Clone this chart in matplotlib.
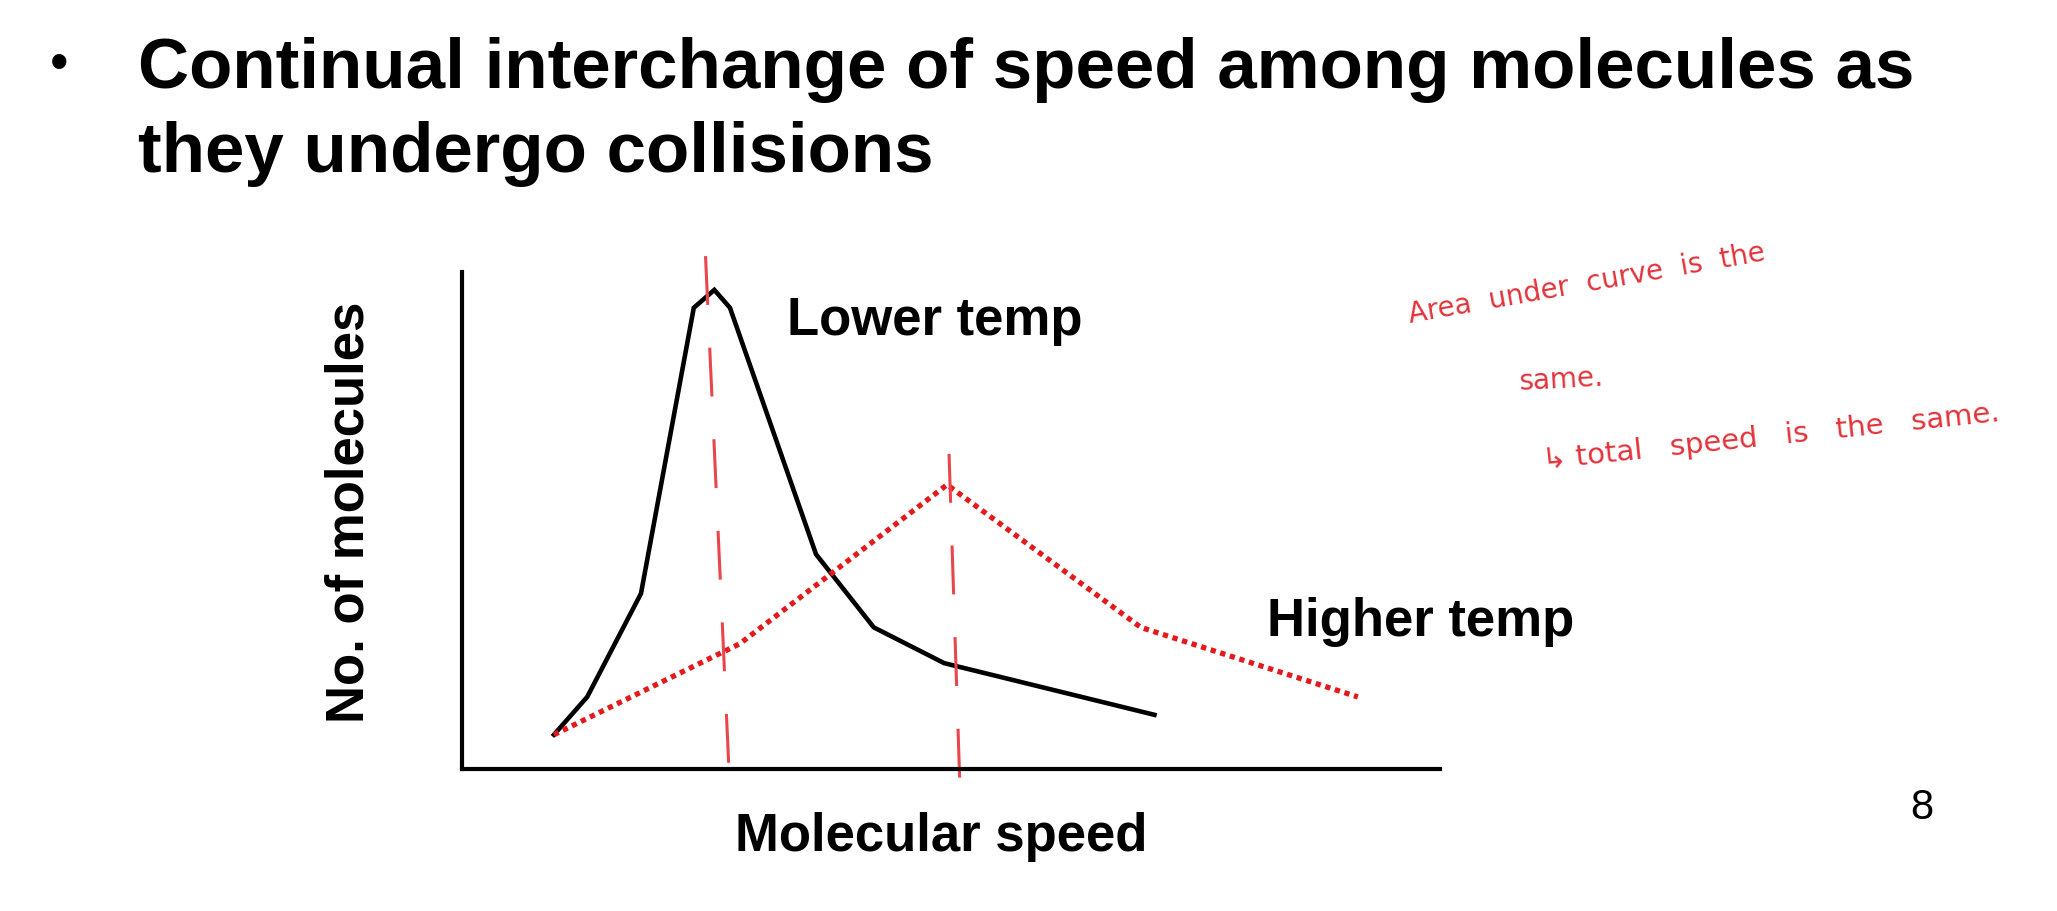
import matplotlib.pyplot as plt

W, H = 2057, 911

# curve values (axis units 0-100)
lower_x = [9.4, 12.8, 18.3, 23.7, 25.8, 27.4, 36.2, 42.1, 49.3, 70.8]
lower_y = [6.9, 14.5, 35.3, 92.8, 96.4, 92.8, 43.2, 28.5, 21.3, 10.9]

higher_x = [9.4, 28.4, 49.6, 69.4, 91.6]
higher_y = [6.9, 25.2, 57.2, 28.5, 14.5]

# hand-drawn dashed markers at each peak: (x_top, x_bottom, y_top, y_bottom)
peak_marks = [(24.9, 27.4, 103.2, -4.6), (49.8, 50.9, 63.4, -2.8)]

title_lines = ["Continual interchange of speed among molecules as",
               "they undergo collisions"]
notes = ["Area  under  curve  is  the", "same.", "\u21b3 total   speed   is   the   same."]

plt.rcParams['font.family'] = ['Liberation Sans', 'DejaVu Sans']

fig = plt.figure(figsize=(W / 100, H / 100), dpi=100)
fig.patch.set_facecolor('white')


def px(x, y):
    return x / W, 1 - y / H


# slide title
fig.text(*px(59, 66), "\u2022", fontsize=38, va='center', ha='center')
fig.text(*px(138, 88), title_lines[0], fontsize=51, fontweight='bold', va='baseline')
fig.text(*px(138, 172), title_lines[1], fontsize=51, fontweight='bold', va='baseline')

# chart
ax = fig.add_axes([462 / W, 1 - 769 / H, (1440 - 462) / W, (769 - 272) / H])
ax.set_xlim(0, 100)
ax.set_ylim(0, 100)
for s in ['top', 'right']:
    ax.spines[s].set_visible(False)
for s in ['left', 'bottom']:
    ax.spines[s].set_linewidth(3)
ax.set_xticks([])
ax.set_yticks([])
ax.patch.set_alpha(0)

ax.plot(lower_x, lower_y, color='black', lw=3.3, solid_joinstyle='miter')
ax.plot(higher_x, higher_y, color='#e3191c', lw=3.8, linestyle=(0, (1, 0.9)))

for x0, x1, y0, y1 in peak_marks:
    ax.plot([x0, x1], [y0, y1], color='#e8464c', lw=2.2,
            linestyle=(0, (16, 14)), clip_on=False)

fig.text(*px(787, 335), "Lower temp", fontsize=38, fontweight='bold', va='baseline')
fig.text(*px(1267, 636), "Higher temp", fontsize=38, fontweight='bold', va='baseline')
fig.text(*px(941, 851), "Molecular speed", fontsize=38, fontweight='bold',
         va='baseline', ha='center')
fig.text(*px(350, 512), "No. of molecules", fontsize=38, fontweight='bold',
         va='center', ha='center', rotation=90)

# page number
fig.text(*px(1922, 808), "8", fontsize=30, va='center', ha='center')

# handwritten notes
hand = dict(color='#e2333b', family=['DejaVu Sans'],
            ha='center', va='center', rotation_mode='anchor')
fig.text(*px(1587, 284), notes[0], rotation=10, fontsize=20, **hand)
fig.text(*px(1561, 380), notes[1], rotation=3, fontsize=20, **hand)
fig.text(*px(1771, 437), notes[2], rotation=6, fontsize=21, **hand)

fig.savefig('out.png', dpi=100)
